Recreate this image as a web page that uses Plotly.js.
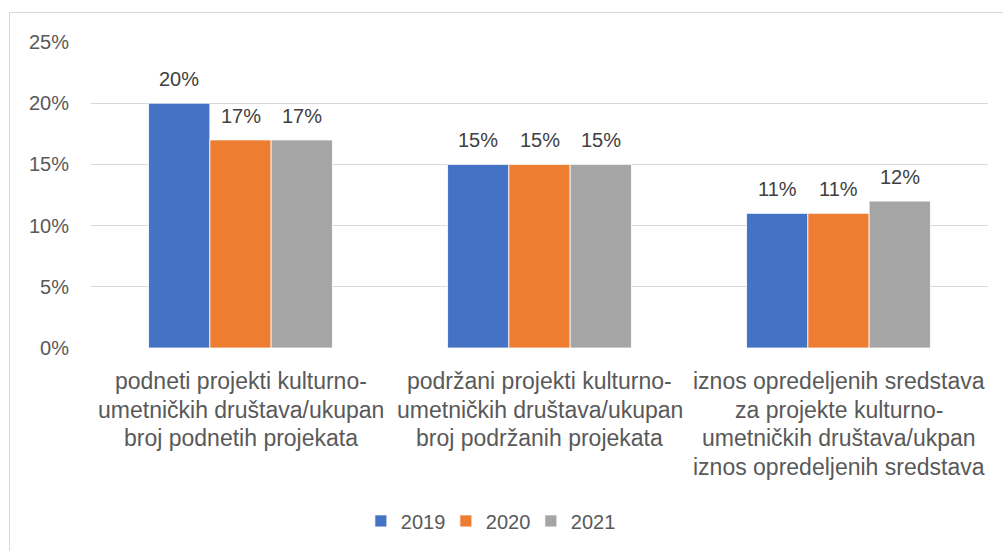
<!DOCTYPE html>
<html>
<head>
<meta charset="utf-8">
<script src="https://cdn.plot.ly/plotly-3.0.1.min.js"></script>
<style>
  html, body { margin: 0; padding: 0; background: #ffffff; overflow: hidden; }
  #wrap { position: relative; width: 1003px; height: 551px; }
  #chart { position: absolute; left: 0; top: 0; width: 1003px; height: 551px; }
  #frame { position: absolute; left: 9px; top: 12px; width: 1010px; height: 560px;
           border: 1px solid #d9d9d9; pointer-events: none; box-sizing: border-box; }
</style>
</head>
<body>
<div id="wrap">
  <div id="chart"></div>
  <div id="frame"></div>
</div>
<script>
// ---- data ----
const categories = [
  'podneti projekti kulturno-umetničkih društava/ukupan broj podnetih projekata',
  'podržani projekti kulturno-umetničkih društava/ukupan broj podržanih projekata',
  'iznos opredeljenih sredstava za projekte kulturno-umetničkih društava/ukpan iznos opredeljenih sredstava'
];
const categoryLabelLines = [
  ['podneti projekti kulturno-', 'umetničkih društava/ukupan', 'broj podnetih projekata'],
  ['podržani projekti kulturno-', 'umetničkih društava/ukupan', 'broj podržanih projekata'],
  ['iznos opredeljenih sredstava', 'za projekte kulturno-', 'umetničkih društava/ukpan', 'iznos opredeljenih sredstava']
];
const years = ['2019', '2020', '2021'];
const values2019 = [0.20, 0.15, 0.11];
const values2020 = [0.17, 0.15, 0.11];
const values2021 = [0.17, 0.15, 0.12];
const seriesValues = [values2019, values2020, values2021];
const seriesColors = ['#4472C4', '#ED7D31', '#A5A5A5'];

// ---- chart ----
const FONT = '"Liberation Sans", Arial, sans-serif';
const bargap = 0.385;
const barW = (1 - bargap) / years.length;

const traces = years.map((yr, j) => ({
  type: 'bar',
  name: yr,
  x: categories,
  y: seriesValues[j],
  marker: { color: seriesColors[j], line: { color: '#ffffff', width: 0.8 } },
  hoverinfo: 'skip'
}));

const annotations = [];
// data labels
seriesValues.forEach((vals, j) => {
  vals.forEach((v, i) => {
    annotations.push({
      xref: 'x', yref: 'y',
      x: i + (j - (years.length - 1) / 2) * barW,
      y: v,
      text: Math.round(v * 100) + '%',
      showarrow: false,
      yanchor: 'middle',
      yshift: 24,
      font: { family: FONT, size: 20, color: '#404040' }
    });
  });
});
// category labels (one annotation per line)
categoryLabelLines.forEach((lines, i) => {
  lines.forEach((line, k) => {
    annotations.push({
      xref: 'x', yref: 'paper',
      x: i, y: 0,
      text: line,
      showarrow: false,
      yanchor: 'middle',
      yshift: -(33 + k * 28.5),
      font: { family: FONT, size: 23, color: '#595959' }
    });
  });
});

const layout = {
  width: 1003,
  height: 551,
  margin: { l: 91, r: 15, t: 42, b: 202 },
  paper_bgcolor: '#ffffff',
  plot_bgcolor: '#ffffff',
  font: { family: FONT, color: '#595959' },
  barmode: 'group',
  bargap: bargap,
  bargroupgap: 0,
  showlegend: true,
  legend: {
    orientation: 'h',
    x: 0.443, xanchor: 'center',
    y: -0.56, yanchor: 'middle',
    entrywidth: 40,
    entrywidthmode: 'pixels',
    itemwidth: 30,
    font: { family: FONT, size: 20, color: '#595959' },
    traceorder: 'normal'
  },
  xaxis: {
    type: 'category',
    range: [-0.5, 2.5],
    showticklabels: false,
    showgrid: false,
    zeroline: false,
    showline: false,
    ticks: ''
  },
  yaxis: {
    range: [0, 0.25],
    dtick: 0.05,
    tick0: 0,
    tickformat: '.0%',
    showgrid: true,
    gridcolor: '#d9d9d9',
    gridwidth: 1,
    zeroline: false,
    showline: false,
    ticks: '',
    ticklabelstandoff: 21,
    tickfont: { family: FONT, size: 20, color: '#595959' }
  },
  annotations: annotations
};

Plotly.newPlot('chart', traces, layout, { displayModeBar: false, staticPlot: true });
</script>
</body>
</html>
